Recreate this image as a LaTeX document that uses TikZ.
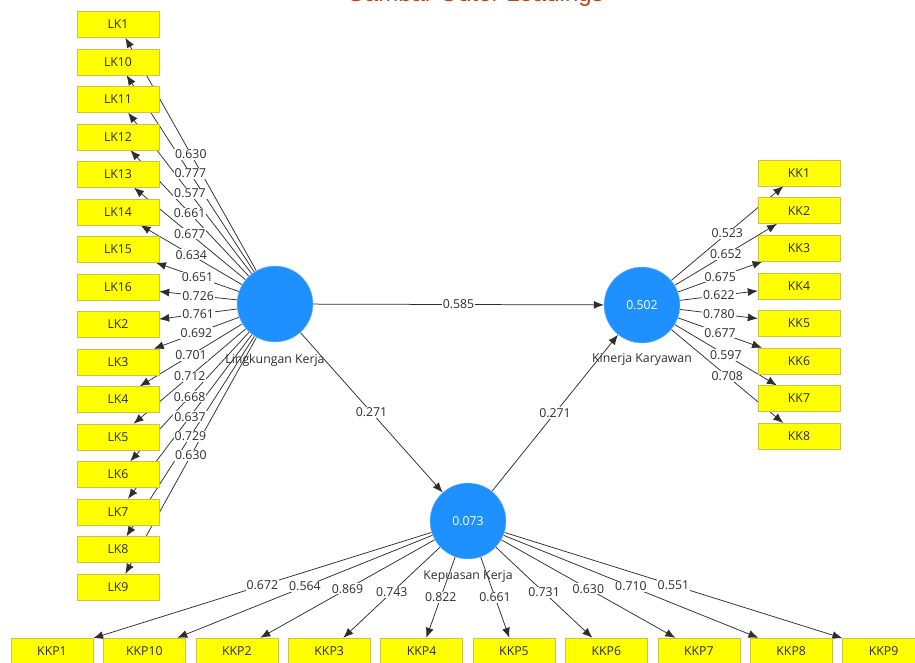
\documentclass[tikz,border=0pt]{standalone}
\usepackage{fontspec}
\setmainfont{Open Sans}
\newfontfamily\titlefont{Liberation Sans}
\usetikzlibrary{arrows.meta,positioning,backgrounds}
\definecolor{plsblue}{RGB}{30,144,255}
\definecolor{indyellow}{RGB}{255,255,0}
\definecolor{boxedge}{RGB}{205,195,70}
\definecolor{inkgray}{RGB}{45,45,45}
\definecolor{titlered}{RGB}{190,70,20}
\newcommand{\plsfont}{\fontsize{12.3}{14}\selectfont}
\tikzset{
  indbox/.style={draw=boxedge,fill=indyellow,minimum width=82pt,minimum height=26pt,inner sep=0pt,text=inkgray},
  latent/.style={circle,fill=plsblue,draw=plsblue!55,minimum size=76pt,inner sep=0pt,text=white},
  link/.style={->,draw=inkgray,line width=0.75pt},
  loadlbl/.style={fill=white,inner sep=1pt,text=inkgray}
}

\begin{document}
\begin{tikzpicture}[>={Latex[length=10pt,width=8pt]},x=1pt,y=-1pt,font=\plsfont]
  \useasboundingbox (0,0) rectangle (915,662);
  \node[anchor=base,text=titlered,font=\titlefont\fontsize{24}{26}\selectfont] (title) at (475,1.5) {Gambar Outer Loadings};
  % latent variables
  \node[latent] (lk) at (275,304) {};
  \node[latent] (kk) at (642,305) {0.502};
  \node[latent] (kp) at (468,521) {0.073};
  \node[below=8pt of lk,text=inkgray] (lkname) {Lingkungan Kerja};
  \node[below=7pt of kk,text=inkgray] (kkname) {Kinerja Karyawan};
  \node[below=8pt of kp,text=inkgray] (kpname) {Kepuasan Kerja};
  % indicators
  \foreach \n [count=\i from 0] in {1,10,11,12,13,14,15,16,2,3,4,5,6,7,8,9}
    \node[indbox] (LK\n) at (118,24.5+37.5*\i) {LK\n};
  \foreach \n [count=\i from 0] in {1,...,8}
    \node[indbox] (KK\n) at (799,173+37.6*\i) {KK\n};
  \foreach \n [count=\i from 0] in {1,10,2,3,4,5,6,7,8,9}
    \node[indbox] (KKP\n) at (52+92.4*\i,651) {KKP\n};
  % connectors under the boxes
  \begin{scope}[on background layer]
    \foreach \n in {1,10,11,12,13,14,15,16,2,3,4,5,6,7,8,9}
      \draw[link] (lk) -- (LK\n);
    \foreach \n in {1,...,8}
      \draw[link] (kk) -- (KK\n);
    \foreach \n in {1,10,2,3,4,5,6,7,8,9}
      \draw[link] (kp) -- (KKP\n);
    \draw[link] (lk) -- (kk);
    \draw[link] (lk) -- (kp);
    \draw[link] (kp) -- (kk);
  \end{scope}
  % loadings and path coefficients
  \foreach \n/\v in {1/0.630,10/0.777,11/0.577,12/0.661,13/0.677,14/0.634,15/0.651,16/0.726,2/0.761,3/0.692,4/0.701,5/0.712,6/0.668,7/0.637,8/0.729,9/0.630}
    \path (lk) -- node[loadlbl] {\v} (LK\n);
  \foreach \n/\v in {1/0.523,2/0.652,3/0.675,4/0.622,5/0.780,6/0.677,7/0.597,8/0.708}
    \path (kk) -- node[loadlbl] {\v} (KK\n);
  \foreach \n/\v in {1/0.672,10/0.564,2/0.869,3/0.743,4/0.822,5/0.661,6/0.731,7/0.630,8/0.710,9/0.551}
    \path (kp) -- node[loadlbl] {\v} (KKP\n);
  \path (lk) -- node[loadlbl] {0.585} (kk);
  \path (lk) -- node[loadlbl] {0.271} (kp);
  \path (kp) -- node[loadlbl] {0.271} (kk);
\end{tikzpicture}
\end{document}
